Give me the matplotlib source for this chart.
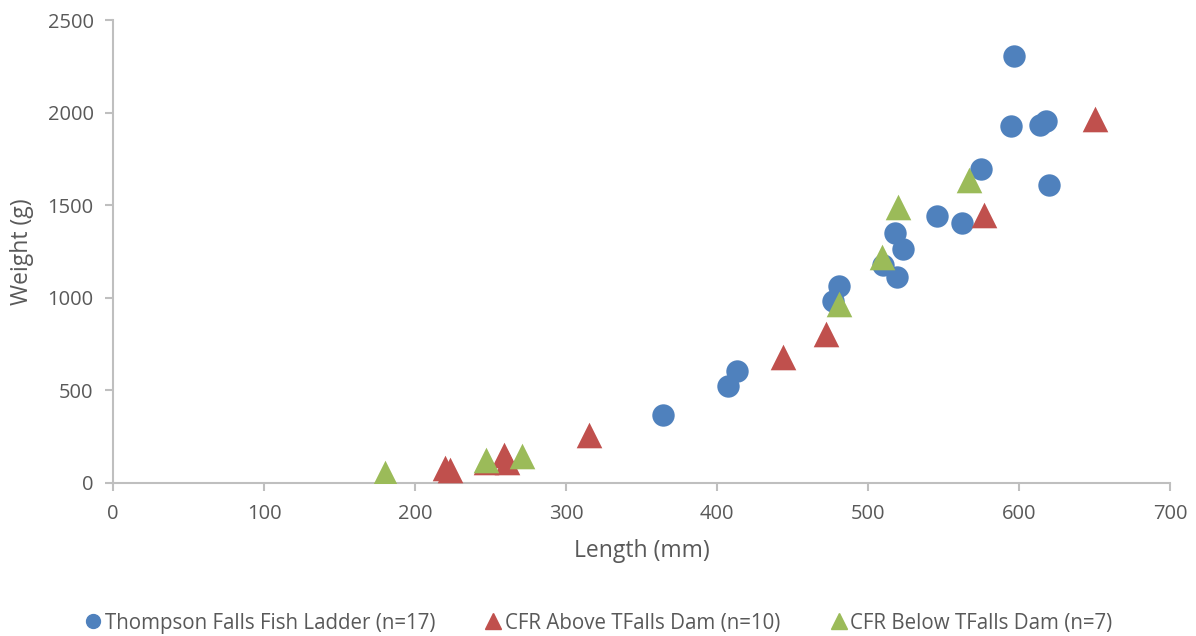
import matplotlib
matplotlib.use("Agg")
import matplotlib.pyplot as plt
from matplotlib.lines import Line2D

# Thompson Falls Fish Ladder (n=17)
ladder_len = [364, 407, 413, 477, 481, 510, 519, 518, 523, 546, 562, 575, 595, 597, 614, 618, 620]
ladder_wt = [367, 524, 605, 983, 1064, 1177, 1112, 1350, 1264, 1440, 1405, 1695, 1928, 2306, 1933, 1955, 1609]

# CFR Above TFalls Dam (n=10)
above_len = [220, 223, 247, 259, 261, 315, 444, 472, 577, 650]
above_wt = [81, 70, 115, 150, 113, 259, 680, 805, 1447, 1965]

# CFR Below TFalls Dam (n=7)
below_len = [180, 247, 271, 481, 509, 520, 567]
below_wt = [54, 124, 146, 966, 1220, 1490, 1636]

labels = ["Thompson Falls Fish Ladder (n=17)", "CFR Above TFalls Dam (n=10)", "CFR Below TFalls Dam (n=7)"]
colors = ["#4F81BD", "#C0504D", "#9BBB59"]

plt.rcParams['font.family'] = ['Open Sans', 'DejaVu Sans']

fig = plt.figure(figsize=(11.96, 6.36), dpi=100)
ax = fig.add_axes([113/1196, 1-483/636, (1170-113)/1196, (483-20)/636])

ax.scatter(ladder_len, ladder_wt, s=260, marker='o', color=colors[0], zorder=3, linewidths=0)
ax.scatter(above_len, above_wt, s=340, marker='^', color=colors[1], zorder=3, linewidths=0)
ax.scatter(below_len, below_wt, s=340, marker='^', color=colors[2], zorder=4, linewidths=0)

ax.set_xlim(0, 700)
ax.set_ylim(0, 2500)
ax.set_xticks(range(0, 701, 100))
ax.set_yticks(range(0, 2501, 500))

for side in ['top', 'right']:
    ax.spines[side].set_visible(False)
for side in ['left', 'bottom']:
    ax.spines[side].set_color('#BFBFBF')
    ax.spines[side].set_linewidth(1.5)
ax.tick_params(axis='both', colors='#BFBFBF', labelcolor='#595959', labelsize=14.5,
               length=6, width=1.5, direction='out')
ax.tick_params(axis='x', pad=9)
ax.tick_params(axis='y', pad=8)

ax.set_xlabel("Length (mm)", fontsize=16.5, color='#595959', va='center')
ax.set_ylabel("Weight (g)", fontsize=16.5, color='#595959', va='center')
ax.xaxis.set_label_coords(0.5, (483-551)/463)
ax.yaxis.set_label_coords((22-113)/1057, 0.5)

handles = [
    Line2D([], [], marker='o', linestyle='', color=colors[0], markersize=10),
    Line2D([], [], marker='^', linestyle='', color=colors[1], markersize=11),
    Line2D([], [], marker='^', linestyle='', color=colors[2], markersize=11),
]
fig.legend(handles, labels, loc='center', bbox_to_anchor=(0.5, 1-623/636), ncol=3,
           frameon=False, fontsize=14.8, labelcolor='#595959', handletextpad=0.1,
           columnspacing=2.4, handlelength=0.9)

fig.savefig("out.png", dpi=100)
